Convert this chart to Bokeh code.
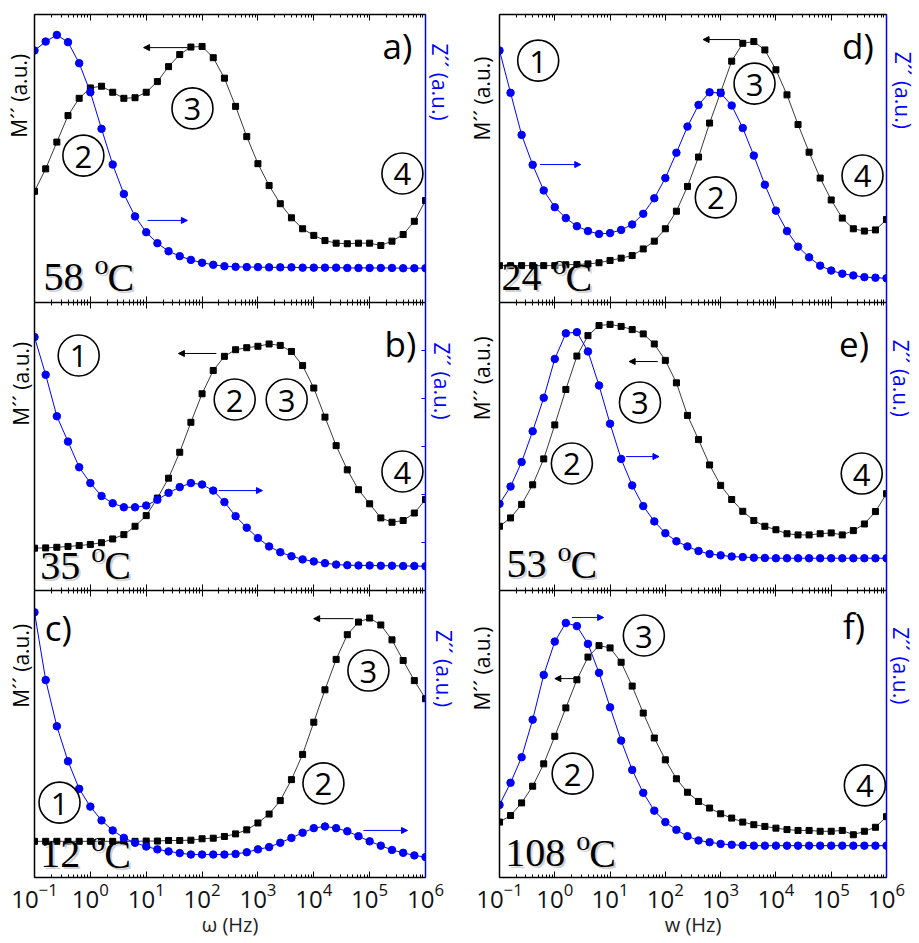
from bokeh.plotting import figure
from bokeh.models import (LogAxis, LinearAxis, Range1d, Label, Arrow, NormalHead,
                          LogTicker, FixedTicker, Grid)
from bokeh.layouts import gridplot
from bokeh.embed import file_html
from bokeh.resources import INLINE

# ---------------- data (arbitrary units, 0-100 of each panel) ----------------
freq = [1.0e-1, 1.585e-1, 2.512e-1, 3.981e-1, 6.310e-1,
        1.0e0, 1.585e0, 2.512e0, 3.981e0, 6.310e0,
        1.0e1, 1.585e1, 2.512e1, 3.981e1, 6.310e1,
        1.0e2, 1.585e2, 2.512e2, 3.981e2, 6.310e2,
        1.0e3, 1.585e3, 2.512e3, 3.981e3, 6.310e3,
        1.0e4, 1.585e4, 2.512e4, 3.981e4, 6.310e4,
        1.0e5, 1.585e5, 2.512e5, 3.981e5, 6.310e5, 1.0e6]

m_a = [38.6, 46.4, 55.7, 64.9, 70.9, 74.5, 75.1, 73.0, 70.9, 71.1, 73.0, 76.7, 81.9, 86.1, 88.7, 88.9, 85.0, 77.9,
       68.1, 57.6, 48.2, 40.6, 34.3, 29.4, 25.6, 23.3, 21.5, 20.6, 20.4, 20.6, 20.6, 19.8, 21.3, 23.6, 28.2, 35.4]
z_a = [87.5, 90.6, 92.9, 90.4, 83.1, 73.0, 60.3, 47.9, 37.7, 29.9, 24.4, 20.6, 17.8, 16.1, 14.8, 13.8, 13.1, 12.6,
       12.4, 12.3, 12.3, 12.2, 12.2, 12.2, 12.1, 12.1, 12.1, 12.1, 12.0, 12.0, 12.0, 12.0, 12.0, 11.9, 11.9, 11.9]

m_b = [14.7, 14.8, 15.0, 15.3, 15.6, 16.0, 16.6, 17.9, 19.4, 22.3, 26.0, 32.1, 39.0, 48.0, 58.4, 68.3, 76.4, 81.3,
       83.6, 84.3, 84.8, 85.6, 85.1, 83.0, 78.1, 70.3, 60.2, 50.3, 41.9, 35.0, 30.1, 25.2, 23.7, 24.3, 26.9, 31.6]
z_b = [88.0, 74.9, 60.5, 51.7, 42.8, 37.3, 32.8, 30.3, 28.9, 28.9, 29.5, 31.5, 33.9, 35.9, 37.3, 36.8, 34.7, 30.7,
       25.8, 21.8, 18.2, 15.3, 13.3, 11.9, 10.8, 10.1, 9.5, 9.0, 8.8, 8.7, 8.7, 8.6, 8.6, 8.5, 8.5, 8.4]

m_c = [12.6, 12.6, 12.6, 12.6, 12.6, 12.6, 12.6, 12.6, 12.6, 12.6, 12.7, 12.7, 12.9, 12.9, 13.0, 13.5, 13.7, 14.3,
       15.2, 16.6, 19.0, 22.1, 26.8, 34.1, 42.9, 54.1, 65.4, 76.0, 84.6, 89.0, 90.4, 88.0, 82.8, 75.6, 68.6, 62.3]
z_c = [92.4, 68.8, 52.7, 40.5, 30.9, 24.7, 19.9, 16.4, 13.8, 12.1, 10.8, 9.8, 9.1, 8.5, 8.0, 8.0, 8.0, 8.0,
       8.2, 8.8, 9.8, 10.6, 12.1, 13.8, 15.6, 17.2, 17.8, 17.2, 16.1, 14.4, 12.6, 11.1, 9.6, 8.6, 7.7, 7.1]

m_d = [12.8, 12.8, 12.8, 12.8, 12.8, 12.8, 13.1, 13.2, 13.4, 13.8, 14.6, 15.4, 16.3, 18.6, 21.3, 25.6, 31.7, 40.3,
       50.5, 62.3, 73.0, 83.8, 90.0, 90.6, 87.7, 80.8, 72.1, 61.8, 52.2, 43.2, 35.6, 29.3, 25.6, 24.8, 25.2, 28.8]
z_d = [87.5, 72.8, 58.2, 47.8, 38.9, 33.1, 29.3, 26.5, 24.8, 23.8, 24.1, 25.2, 27.1, 30.8, 36.2, 43.2, 52.0, 61.1,
       68.6, 73.0, 72.7, 68.4, 60.6, 51.0, 40.9, 31.9, 24.8, 19.4, 15.7, 12.8, 11.1, 10.0, 9.4, 8.8, 8.6, 8.4]

m_e = [22.3, 25.2, 29.9, 36.7, 45.7, 57.5, 69.8, 81.4, 88.5, 92.0, 92.4, 91.7, 90.6, 89.1, 85.6, 79.9, 72.1, 60.8,
       52.4, 43.6, 36.5, 31.6, 27.5, 24.3, 22.3, 21.1, 19.7, 19.3, 19.3, 19.7, 20.0, 19.3, 20.8, 23.1, 27.4, 33.6]
z_e = [30.1, 36.1, 44.6, 55.3, 66.9, 80.4, 89.3, 89.7, 83.0, 71.2, 57.9, 45.7, 36.5, 29.3, 24.0, 19.9, 17.1, 15.3,
       13.7, 12.7, 12.2, 11.8, 11.6, 11.4, 11.3, 11.2, 11.2, 11.2, 11.2, 11.2, 11.2, 11.2, 11.2, 11.2, 11.2, 11.2]

m_f = [19.3, 21.6, 26.0, 31.8, 39.6, 49.2, 59.1, 68.9, 76.8, 80.8, 80.0, 75.0, 66.7, 57.3, 48.6, 41.0, 34.4, 29.7,
       26.5, 24.2, 22.2, 20.7, 19.3, 18.4, 17.8, 17.2, 16.7, 16.4, 16.4, 16.1, 16.1, 16.4, 14.9, 16.1, 17.5, 21.2]
z_f = [25.3, 33.0, 41.9, 55.0, 70.6, 82.2, 88.7, 87.6, 81.4, 71.3, 59.3, 47.7, 37.5, 29.5, 23.3, 19.3, 16.6, 14.4,
       12.9, 12.3, 11.7, 11.4, 11.2, 11.1, 11.1, 11.1, 11.1, 11.1, 11.1, 11.1, 11.1, 11.1, 11.1, 11.1, 11.1, 11.1]

temperatures = {"a": "58", "b": "35", "c": "12", "d": "24", "e": "53", "f": "108"}
x_titles = {"c": "\u03c9 (Hz)", "f": "w (Hz)"}
m_title = "M\u00b4\u00b4 (a.u.)"
z_title = "Z\u00b4\u00b4 (a.u.)"

# ---------------- layout / annotation placement ----------------
SANS = "Open Sans"
SERIF = "Liberation Serif"
BLUE = "#0000ff"
NBSP = "\u00a0"
YT_SIZE = "21px"

# width, height, border left, right, top, bottom
GEOM = {
    "a": (460, 302, 34, 35, 14, 0), "b": (460, 288, 34, 35, 0, 0), "c": (460, 353, 34, 35, 0, 66),
    "d": (459, 302, 36, 33, 14, 0), "e": (459, 288, 39, 29, 0, 0), "f": (459, 353, 39, 29, 0, 66),
}

# positions as (fraction of frame width, y in panel units)
ANN = {
    "a": dict(tag=(0.928, 89.2), circ=[("3", 0.404, 67.4), ("2", 0.125, 51.0), ("4", 0.941, 44.8)],
              marr=(0.391, 0.279, 88.5), zarr=(0.289, 0.391, 28.5), temp=(0.023, 3.2),
              mlab=(2, 23), zlab=(0, 28)),
    "b": dict(tag=(0.936, 85.8), circ=[("1", 0.113, 81.6), ("2", 0.512, 66.3), ("3", 0.645, 66.3), ("4", 0.941, 41.3)],
              marr=(0.465, 0.368, 82.3), zarr=(0.471, 0.583, 34.7), temp=(0.015, 3.0),
              mlab=(0, 23), zlab=(2, 24)),
    "c": dict(tag=(0.061, 87.1), circ=[("3", 0.854, 72.1), ("2", 0.739, 32.8), ("1", 0.064, 26.1)],
              marr=(0.816, 0.714, 90.2), zarr=(0.841, 0.954, 16.4), temp=(0.015, 2.5),
              mlab=(0, 25), zlab=(4, 24)),
    "d": dict(tag=(0.926, 89.2), circ=[("1", 0.100, 84.0), ("3", 0.659, 76.0), ("4", 0.938, 44.1), ("2", 0.559, 36.5)],
              marr=(0.621, 0.526, 91.3), zarr=(0.105, 0.210, 47.9), temp=(0.005, 3.2),
              mlab=(4, 22), zlab=(2, 25)),
    "e": dict(tag=(0.916, 85.8), circ=[("3", 0.363, 65.3), ("2", 0.187, 44.1), ("4", 0.936, 40.6)],
              marr=(0.409, 0.335, 79.5), zarr=(0.327, 0.412, 46.5), temp=(0.018, 3.5),
              mlab=(4, 25), zlab=(0, 25)),
    "f": dict(tag=(0.916, 87.8), circ=[("3", 0.373, 84.3), ("2", 0.189, 36.2), ("4", 0.944, 32.1)],
              marr=(0.200, 0.143, 69.3), zarr=(0.187, 0.269, 90.6), temp=(0.015, 2.8),
              mlab=(4, 24), zlab=(0, 25)),
}


def fx(f):
    return 10 ** (-1 + 7 * f)


def hide_labels(ax):
    ax.major_label_text_font_size = "1px"
    ax.major_label_text_alpha = 0
    ax.major_label_standoff = 0


def style_title(ax, color, standoff, size):
    ax.axis_label_text_font = SANS
    ax.axis_label_text_font_size = size
    ax.axis_label_text_font_style = "normal"
    ax.axis_label_text_color = color
    ax.axis_label_standoff = standoff


def x_axis(show_labels, title=None):
    ax = LogAxis(ticker=LogTicker(desired_num_ticks=8, num_minor_ticks=10))
    ax.axis_line_color = "black"
    ax.axis_line_width = 1.5
    ax.major_tick_in = 6
    ax.major_tick_out = 0
    ax.minor_tick_in = 3
    ax.minor_tick_out = 0
    ax.major_tick_line_color = "black"
    ax.minor_tick_line_color = "black"
    if show_labels:
        ax.major_label_text_font = SANS
        ax.major_label_text_font_size = "24px"
        ax.major_label_text_color = "#111111"
        ax.major_label_standoff = 5
        ax.axis_label = title
        style_title(ax, "#222222", 0, "20px")
    else:
        hide_labels(ax)
    return ax


def make_panel(key, m, z):
    W, H, bl, br, bt, bb = GEOM[key]
    spec = ANN[key]
    p = figure(width=W, height=H, x_axis_type="log", x_range=Range1d(0.1, 1e6), y_range=Range1d(0, 100),
               x_axis_location=None, y_axis_location=None, output_backend="svg", toolbar_location=None,
               min_border_left=bl, min_border_right=br, min_border_top=bt, min_border_bottom=bb)
    p.extra_y_ranges = {"z": Range1d(0, 100)}
    p.outline_line_color = None
    p.background_fill_color = "white"
    p.border_fill_color = "white"
    for g in p.select(type=Grid):
        g.visible = False

    bottom = key in x_titles
    p.add_layout(x_axis(bottom, x_titles.get(key)), "below")
    p.add_layout(x_axis(False), "above")

    ms, mn = spec["mlab"]
    left = LinearAxis()
    left.axis_line_color = "black"
    left.axis_line_width = 1.5
    left.major_tick_in = 0
    left.major_tick_out = 0
    left.minor_tick_in = 0
    left.minor_tick_out = 0
    left.major_tick_line_color = None
    left.minor_tick_line_color = None
    hide_labels(left)
    left.axis_label = NBSP * mn + m_title
    style_title(left, "black", ms, YT_SIZE)
    p.add_layout(left, "left")

    zs, zn = spec["zlab"]
    if key == "b":
        right = LinearAxis(y_range_name="z", ticker=FixedTicker(ticks=[16.67, 33.33, 50.0, 66.67, 83.33]))
        right.major_tick_in = 4
        right.major_tick_line_color = BLUE
    else:
        right = LinearAxis(y_range_name="z")
        right.major_tick_in = 0
        right.major_tick_line_color = None
    right.axis_line_color = BLUE
    right.axis_line_width = 1.5
    right.major_tick_out = 0
    right.minor_tick_in = 0
    right.minor_tick_out = 0
    right.minor_tick_line_color = None
    hide_labels(right)
    right.axis_label = z_title + NBSP * zn
    style_title(right, BLUE, zs, YT_SIZE)
    p.add_layout(right, "right")

    # data
    p.line(freq, m, line_color="#3a3a3a", line_width=1)
    p.scatter(freq, m, marker="square", size=6, fill_color="black", line_color="black")
    p.line(freq, z, y_range_name="z", line_color=BLUE, line_width=1)
    p.scatter(freq, z, y_range_name="z", marker="circle", size=7.5, fill_color=BLUE, line_color=BLUE)

    # panel tag
    tx, ty = spec["tag"]
    p.add_layout(Label(x=fx(tx), y=ty, text=key + ")", text_font=SANS, text_font_size="35px",
                       text_align="center", text_baseline="middle", text_color="black"))

    # circled numbers
    cx = [fx(c[1]) for c in spec["circ"]]
    cy = [c[2] for c in spec["circ"]]
    p.scatter(cx, cy, marker="circle", size=41, fill_color=None, line_color="black", line_width=1.6)
    for t, fxx, yy in spec["circ"]:
        p.add_layout(Label(x=fx(fxx), y=yy, text=t, text_font=SANS, text_font_size="31px",
                           text_align="center", text_baseline="middle", text_color="black", y_offset=-1))

    # arrows
    x0, x1, ya = spec["marr"]
    p.add_layout(Arrow(end=NormalHead(size=6, fill_color="black", line_color="black"),
                       x_start=fx(x0), y_start=ya, x_end=fx(x1), y_end=ya,
                       line_color="black", line_width=1))
    x0, x1, ya = spec["zarr"]
    p.add_layout(Arrow(end=NormalHead(size=6, fill_color=BLUE, line_color=BLUE),
                       x_start=fx(x0), y_start=ya, x_end=fx(x1), y_end=ya, y_range_name="z",
                       line_color=BLUE, line_width=1))

    # temperature label: number, superscript o, C
    tfx, tyy = spec["temp"]
    num = temperatures[key]
    wnum = 20 * len(num)
    lift = 16
    pieces = [(num, 0, 0, "40px"), ("o", wnum + 11, 13, "28px"), ("C", wnum + 24, 0, "40px")]
    for txt, xo, yo, fs in pieces:
        p.add_layout(Label(x=fx(tfx), y=tyy, x_offset=xo + 2, y_offset=yo + lift - 2, text=txt, text_font=SERIF,
                           text_font_size=fs, text_color="#bdbdbd", text_alpha=0.7,
                           text_align="left", text_baseline="alphabetic"))
        p.add_layout(Label(x=fx(tfx), y=tyy, x_offset=xo, y_offset=yo + lift, text=txt, text_font=SERIF,
                           text_font_size=fs, text_color="black",
                           text_align="left", text_baseline="alphabetic"))
    return p


pa = make_panel("a", m_a, z_a)
pb = make_panel("b", m_b, z_b)
pc = make_panel("c", m_c, z_c)
pd = make_panel("d", m_d, z_d)
pe = make_panel("e", m_e, z_e)
pf = make_panel("f", m_f, z_f)

grid = gridplot([[pa, pd], [pb, pe], [pc, pf]], toolbar_location=None)

with open("out.html", "w") as fh:
    fh.write(file_html(grid, INLINE))
